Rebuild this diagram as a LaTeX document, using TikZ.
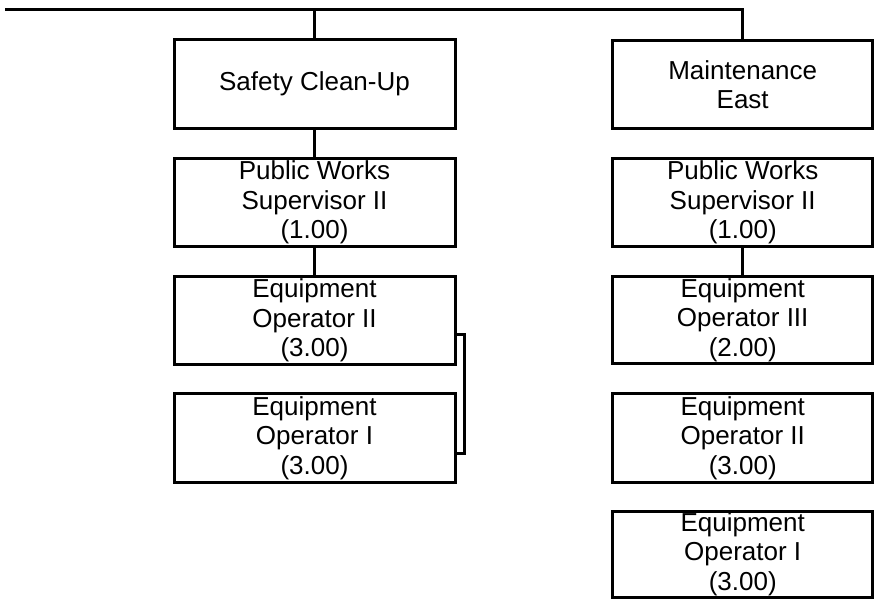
\documentclass[tikz,border=0pt]{standalone}
\usepackage{fontspec}
\setmainfont{Liberation Sans}
\begin{document}
\begin{tikzpicture}[x=1pt,y=-1pt,
  box/.style={draw, line width=3pt, rectangle, inner sep=0pt, align=center,
    font=\fontsize{26}{29.5}\selectfont, minimum height=87.5pt},
  lbox/.style={box, minimum width=281pt},
  rbox/.style={box, minimum width=260pt},
  conn/.style={line width=3pt}]
\useasboundingbox (0,0) rectangle (874,602);
% left column
\node[lbox, minimum height=88pt] (sc) at (314.5,84) {Safety Clean-Up};
\node[lbox] (pwl) at (314.5,202.5) {Public Works\\Supervisor II\\(1.00)};
\node[lbox] (eo2l) at (314.5,320.5) {Equipment\\Operator II\\(3.00)};
\node[lbox, minimum height=89pt] (eo1l) at (314.5,438) {Equipment\\Operator I\\(3.00)};
% right column
\node[rbox, minimum height=87pt] (me) at (742.7,84.5) {Maintenance\\East};
\node[rbox] (pwr) at (742.7,202.5) {Public Works\\Supervisor II\\(1.00)};
\node[rbox] (eo3r) at (742.7,320) {Equipment\\Operator III\\(2.00)};
\node[rbox, minimum height=89pt] (eo2r) at (742.7,438) {Equipment\\Operator II\\(3.00)};
\node[rbox, minimum height=86pt] (eo1r) at (742.7,554) {Equipment\\Operator I\\(3.00)};
% connectors
\coordinate (tl) at (5,10);
\draw[conn] (tl) -| (me.north);
\draw[conn] (sc.north) -- (sc.north |- tl);
\draw[conn] (sc.south) -- (pwl.north);
\draw[conn] (pwl.south) -- (eo2l.north);
\draw[conn] (pwr.south) -- (eo3r.north);
\coordinate (bt) at (455,334);
\coordinate (bb) at (455,453);
\draw[conn] (eo2l.east |- bt) -- ++(8,0) |- (eo1l.east |- bb);
\end{tikzpicture}
\end{document}
